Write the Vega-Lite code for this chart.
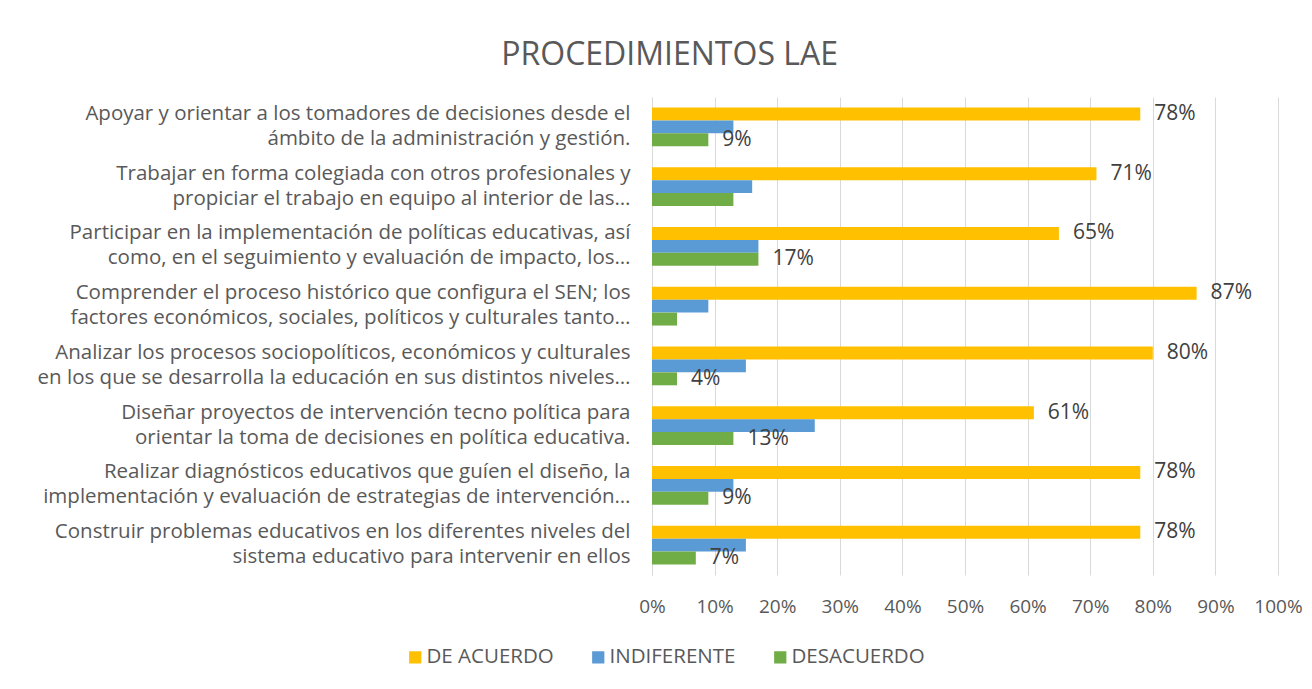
{
  "$schema": "https://vega.github.io/schema/vega-lite/v6.json",
  "autosize": {"type": "none"},
  "padding": {"left": 652, "top": 97, "right": 34, "bottom": 114},
  "width": 626,
  "height": 478,
  "background": "white",
  "config": {"view": {"stroke": null}},
  "title": {
    "text": "PROCEDIMIENTOS LAE",
    "frame": "bounds",
    "anchor": "middle",
    "fontSize": 32,
    "font": "Open Sans",
    "fontWeight": "normal",
    "color": "#595959",
    "offset": 25
  },
  "data": {
    "values": [
      {"cat": "Apoyar y orientar a los tomadores de decisiones desde el|ámbito de la administración y gestión.", "serie": "DE ACUERDO", "valor": 0.78, "etiqueta": "78%"},
      {"cat": "Apoyar y orientar a los tomadores de decisiones desde el|ámbito de la administración y gestión.", "serie": "INDIFERENTE", "valor": 0.13, "etiqueta": ""},
      {"cat": "Apoyar y orientar a los tomadores de decisiones desde el|ámbito de la administración y gestión.", "serie": "DESACUERDO", "valor": 0.09, "etiqueta": "9%"},
      {"cat": "Trabajar en forma colegiada con otros profesionales y|propiciar el trabajo en equipo al interior de las…", "serie": "DE ACUERDO", "valor": 0.71, "etiqueta": "71%"},
      {"cat": "Trabajar en forma colegiada con otros profesionales y|propiciar el trabajo en equipo al interior de las…", "serie": "INDIFERENTE", "valor": 0.16, "etiqueta": ""},
      {"cat": "Trabajar en forma colegiada con otros profesionales y|propiciar el trabajo en equipo al interior de las…", "serie": "DESACUERDO", "valor": 0.13, "etiqueta": ""},
      {"cat": "Participar en la implementación de políticas educativas, así|como, en el seguimiento y evaluación de impacto, los…", "serie": "DE ACUERDO", "valor": 0.65, "etiqueta": "65%"},
      {"cat": "Participar en la implementación de políticas educativas, así|como, en el seguimiento y evaluación de impacto, los…", "serie": "INDIFERENTE", "valor": 0.17, "etiqueta": ""},
      {"cat": "Participar en la implementación de políticas educativas, así|como, en el seguimiento y evaluación de impacto, los…", "serie": "DESACUERDO", "valor": 0.17, "etiqueta": "17%"},
      {"cat": "Comprender el proceso histórico que configura el SEN; los|factores económicos, sociales, políticos y culturales tanto…", "serie": "DE ACUERDO", "valor": 0.87, "etiqueta": "87%"},
      {"cat": "Comprender el proceso histórico que configura el SEN; los|factores económicos, sociales, políticos y culturales tanto…", "serie": "INDIFERENTE", "valor": 0.09, "etiqueta": ""},
      {"cat": "Comprender el proceso histórico que configura el SEN; los|factores económicos, sociales, políticos y culturales tanto…", "serie": "DESACUERDO", "valor": 0.04, "etiqueta": ""},
      {"cat": "Analizar los procesos sociopolíticos, económicos y culturales|en los que se desarrolla la educación en sus distintos niveles…", "serie": "DE ACUERDO", "valor": 0.80, "etiqueta": "80%"},
      {"cat": "Analizar los procesos sociopolíticos, económicos y culturales|en los que se desarrolla la educación en sus distintos niveles…", "serie": "INDIFERENTE", "valor": 0.15, "etiqueta": ""},
      {"cat": "Analizar los procesos sociopolíticos, económicos y culturales|en los que se desarrolla la educación en sus distintos niveles…", "serie": "DESACUERDO", "valor": 0.04, "etiqueta": "4%"},
      {"cat": "Diseñar proyectos de intervención tecno política para|orientar la toma de decisiones en política educativa.", "serie": "DE ACUERDO", "valor": 0.61, "etiqueta": "61%"},
      {"cat": "Diseñar proyectos de intervención tecno política para|orientar la toma de decisiones en política educativa.", "serie": "INDIFERENTE", "valor": 0.26, "etiqueta": ""},
      {"cat": "Diseñar proyectos de intervención tecno política para|orientar la toma de decisiones en política educativa.", "serie": "DESACUERDO", "valor": 0.13, "etiqueta": "13%"},
      {"cat": "Realizar diagnósticos educativos que guíen el diseño, la|implementación y evaluación de estrategias de intervención…", "serie": "DE ACUERDO", "valor": 0.78, "etiqueta": "78%"},
      {"cat": "Realizar diagnósticos educativos que guíen el diseño, la|implementación y evaluación de estrategias de intervención…", "serie": "INDIFERENTE", "valor": 0.13, "etiqueta": ""},
      {"cat": "Realizar diagnósticos educativos que guíen el diseño, la|implementación y evaluación de estrategias de intervención…", "serie": "DESACUERDO", "valor": 0.09, "etiqueta": "9%"},
      {"cat": "Construir problemas educativos en los diferentes niveles del|sistema educativo para intervenir en ellos", "serie": "DE ACUERDO", "valor": 0.78, "etiqueta": "78%"},
      {"cat": "Construir problemas educativos en los diferentes niveles del|sistema educativo para intervenir en ellos", "serie": "INDIFERENTE", "valor": 0.15, "etiqueta": ""},
      {"cat": "Construir problemas educativos en los diferentes niveles del|sistema educativo para intervenir en ellos", "serie": "DESACUERDO", "valor": 0.07, "etiqueta": "7%"}
    ]
  },
  "encoding": {
    "y": {
      "field": "cat",
      "type": "nominal",
      "sort": null,
      "title": null,
      "scale": {"paddingInner": 0.35, "paddingOuter": 0.175},
      "axis": {
        "labelExpr": "split(datum.label, '|')",
        "labelLimit": 700,
        "labelFontSize": 20.5,
        "labelFont": "Open Sans",
        "labelColor": "#595959",
        "labelPadding": 22,
        "labelLineHeight": 25,
        "labelOffset": -13,
        "ticks": false,
        "domainColor": "#d9d9d9",
        "domainWidth": 1,
        "grid": false
      }
    },
    "yOffset": {
      "field": "serie",
      "type": "nominal",
      "sort": ["DE ACUERDO", "INDIFERENTE", "DESACUERDO"]
    },
    "x": {
      "field": "valor",
      "type": "quantitative",
      "title": null,
      "scale": {"domain": [0, 1]},
      "axis": {
        "format": ".0%",
        "values": [0, 0.1, 0.2, 0.3, 0.4, 0.5, 0.6, 0.7, 0.8, 0.9, 1],
        "labelOverlap": false,
        "labelFlush": false,
        "labelFontSize": 19,
        "labelFont": "Open Sans",
        "labelColor": "#595959",
        "labelPadding": 22,
        "ticks": false,
        "domain": false,
        "grid": true,
        "gridColor": "#d9d9d9",
        "gridWidth": 1
      }
    }
  },
  "layer": [
    {
      "mark": {"type": "bar"},
      "encoding": {
        "color": {
          "field": "serie",
          "type": "nominal",
          "title": null,
          "sort": ["DE ACUERDO", "INDIFERENTE", "DESACUERDO"],
          "scale": {"domain": ["DE ACUERDO", "INDIFERENTE", "DESACUERDO"], "range": ["#FFC000", "#5B9BD5", "#70AD47"]},
          "legend": {
            "orient": "none",
            "direction": "horizontal",
            "legendX": -247,
            "legendY": 550,
            "symbolType": "square",
            "symbolSize": 150,
            "symbolStrokeWidth": 0,
            "labelFontSize": 20.5,
            "labelFont": "Open Sans",
            "labelColor": "#595959",
            "labelOffset": 1,
            "columnPadding": 34,
            "labelLimit": 300
          }
        }
      }
    },
    {
      "mark": {"type": "text", "align": "left", "baseline": "middle", "dx": 14, "fontSize": 21, "font": "Open Sans", "color": "#404040"},
      "encoding": {
        "text": {"field": "etiqueta", "type": "nominal"}
      }
    }
  ]
}
